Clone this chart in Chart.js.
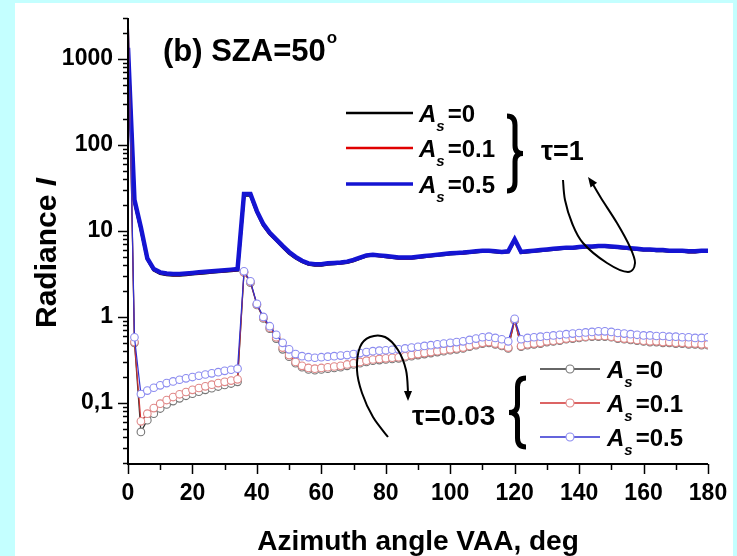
<!DOCTYPE html>
<html>
<head>
<meta charset="utf-8">
<script src="https://cdn.jsdelivr.net/npm/chart.js@4.4.0/dist/chart.umd.min.js"></script>
<style>
  html, body { margin: 0; padding: 0; background: #c4ffff; }
  #panel { position: absolute; left: 15px; top: 3px; width: 718px; height: 553px; background: #fff; }
  #chart { position: absolute; left: 0; top: 0; }
</style>
</head>
<body>
<div id="panel"></div>
<canvas id="chart" width="737" height="556"></canvas>
<script>
const FONT = '"Liberation Sans", Arial, sans-serif';

// azimuth angles, deg
const angles = [0, 2, 4, 6, 8, 10, 12, 14, 16, 18, 20, 22, 24, 26, 28, 30, 32, 34,
  36, 38, 40, 42, 44, 46, 48, 50, 52, 54, 56, 58, 60, 62, 64, 66, 68, 70, 72, 74,
  76, 78, 80, 82, 84, 86, 88, 90, 92, 94, 96, 98, 100, 102, 104, 106, 108, 110, 112, 114,
  116, 118, 120, 122, 124, 126, 128, 130, 132, 134, 136, 138, 140, 142, 144, 146, 148, 150, 152, 154,
  156, 158, 160, 162, 164, 166, 168, 170, 172, 174, 176, 178, 180];

// tau = 1 (lines)
const tau1As0 = [1300, 22, 10.5, 4.7, 3.5, 3.2, 3.1, 3.05, 3.05, 3.1, 3.15, 3.2, 3.25, 3.3, 3.35, 3.4, 3.45, 3.5,
  26, 26, 16.5, 11.6, 9.2, 7.8, 6.5, 5.5, 4.85, 4.4, 4.1, 4.0, 4.0, 4.1, 4.15, 4.2, 4.3, 4.5, 4.8, 5.1,
  5.2, 5.1, 5.0, 4.9, 4.8, 4.8, 4.8, 4.9, 5.0, 5.1, 5.2, 5.3, 5.4, 5.45, 5.5, 5.6, 5.7, 5.8, 5.8, 5.7,
  5.6, 5.7, 7.9, 5.6, 5.7, 5.8, 5.9, 6.0, 6.1, 6.2, 6.3, 6.3, 6.4, 6.5, 6.5, 6.6, 6.6, 6.5, 6.4, 6.3,
  6.2, 6.1, 6.0, 6.0, 5.9, 5.9, 5.8, 5.8, 5.8, 5.7, 5.7, 5.8, 5.8];
const tau1As01 = [1330, 22.5, 10.8, 4.75, 3.55, 3.25, 3.15, 3.1, 3.1, 3.15, 3.2, 3.25, 3.3, 3.35, 3.4, 3.45, 3.5, 3.55,
  26.5, 26.5, 16.8, 11.8, 9.3, 7.9, 6.6, 5.6, 4.9, 4.45, 4.15, 4.05, 4.05, 4.15, 4.2, 4.25, 4.35, 4.55, 4.85, 5.15,
  5.25, 5.15, 5.05, 4.95, 4.85, 4.85, 4.85, 4.95, 5.05, 5.15, 5.25, 5.35, 5.45, 5.5, 5.55, 5.65, 5.75, 5.85, 5.85, 5.75,
  5.65, 5.75, 7.95, 5.65, 5.75, 5.85, 5.95, 6.05, 6.15, 6.25, 6.35, 6.35, 6.45, 6.55, 6.55, 6.65, 6.65, 6.55, 6.45, 6.35,
  6.25, 6.15, 6.05, 6.05, 5.95, 5.95, 5.85, 5.85, 5.85, 5.75, 5.75, 5.85, 5.85];
const tau1As05 = [1350, 23, 11, 4.8, 3.6, 3.3, 3.2, 3.15, 3.15, 3.2, 3.25, 3.3, 3.35, 3.4, 3.45, 3.5, 3.55, 3.6,
  27, 27, 17, 12, 9.5, 8.0, 6.7, 5.7, 5.0, 4.5, 4.2, 4.1, 4.1, 4.2, 4.25, 4.3, 4.4, 4.6, 4.9, 5.2,
  5.3, 5.2, 5.1, 5.0, 4.9, 4.9, 4.9, 5.0, 5.1, 5.2, 5.3, 5.4, 5.5, 5.55, 5.6, 5.7, 5.8, 5.9, 5.9, 5.8,
  5.7, 5.8, 8.0, 5.7, 5.8, 5.9, 6.0, 6.1, 6.2, 6.3, 6.4, 6.4, 6.5, 6.6, 6.6, 6.7, 6.7, 6.6, 6.5, 6.4,
  6.3, 6.2, 6.1, 6.1, 6.0, 6.0, 5.9, 5.9, 5.9, 5.8, 5.8, 5.9, 5.9];

// tau = 0.03 (lines + open circles)
const tau003As0 = [4000, 0.50, 0.046, 0.063, 0.075, 0.086, 0.096, 0.105, 0.113, 0.121, 0.128, 0.135, 0.142, 0.148, 0.155, 0.162, 0.168, 0.176,
  3.3, 2.5, 1.38, 0.96, 0.73, 0.56, 0.42, 0.345, 0.29, 0.26, 0.245, 0.24, 0.245, 0.25, 0.255, 0.26, 0.27, 0.28, 0.29, 0.30,
  0.31, 0.315, 0.32, 0.325, 0.33, 0.34, 0.35, 0.36, 0.37, 0.38, 0.39, 0.40, 0.41, 0.42, 0.43, 0.45, 0.47, 0.49, 0.50, 0.48,
  0.46, 0.43, 0.91, 0.45, 0.47, 0.48, 0.49, 0.51, 0.52, 0.53, 0.55, 0.56, 0.57, 0.58, 0.59, 0.59, 0.59, 0.58, 0.56, 0.55,
  0.54, 0.53, 0.52, 0.51, 0.51, 0.50, 0.50, 0.49, 0.49, 0.48, 0.48, 0.47, 0.47];
const tau003As01 = [4000, 0.51, 0.061, 0.075, 0.087, 0.098, 0.108, 0.117, 0.126, 0.134, 0.142, 0.149, 0.156, 0.163, 0.170, 0.176, 0.182, 0.188,
  3.3, 2.55, 1.4, 0.98, 0.75, 0.58, 0.44, 0.36, 0.30, 0.27, 0.255, 0.25, 0.255, 0.26, 0.265, 0.27, 0.28, 0.29, 0.30, 0.31,
  0.32, 0.325, 0.33, 0.335, 0.34, 0.35, 0.36, 0.37, 0.38, 0.39, 0.40, 0.41, 0.42, 0.43, 0.44, 0.46, 0.48, 0.50, 0.51, 0.49,
  0.47, 0.44, 0.92, 0.46, 0.48, 0.49, 0.50, 0.52, 0.53, 0.54, 0.56, 0.57, 0.58, 0.59, 0.60, 0.60, 0.60, 0.59, 0.57, 0.56,
  0.55, 0.54, 0.53, 0.52, 0.52, 0.51, 0.51, 0.50, 0.50, 0.49, 0.49, 0.48, 0.48];
const tau003As05 = [4000, 0.58, 0.127, 0.139, 0.150, 0.160, 0.170, 0.178, 0.186, 0.193, 0.200, 0.207, 0.214, 0.221, 0.228, 0.236, 0.243, 0.250,
  3.4, 2.6, 1.42, 1.0, 0.78, 0.62, 0.50, 0.42, 0.37, 0.35, 0.34, 0.335, 0.34, 0.345, 0.35, 0.355, 0.36, 0.37, 0.38, 0.39,
  0.40, 0.405, 0.41, 0.415, 0.42, 0.43, 0.44, 0.45, 0.46, 0.47, 0.48, 0.49, 0.50, 0.51, 0.52, 0.54, 0.56, 0.58, 0.59, 0.57,
  0.55, 0.52, 0.95, 0.55, 0.57, 0.58, 0.59, 0.60, 0.61, 0.62, 0.63, 0.64, 0.65, 0.66, 0.67, 0.68, 0.68, 0.67, 0.65, 0.64,
  0.63, 0.62, 0.61, 0.61, 0.60, 0.60, 0.59, 0.59, 0.58, 0.58, 0.57, 0.57, 0.58];

const yTickValues = [0.1, 1, 10, 100, 1000];
const yTickLabels = ['0,1', '1', '10', '100', '1000'];
const legendValues = ['0', '0.1', '0.5'];

const toXY = (vals) => angles.map((a, i) => ({ x: a, y: vals[i] }));

function lineSet(label, vals, color, width, order) {
  return { label, data: toXY(vals), borderColor: color, borderWidth: width,
    pointRadius: 0, tension: 0, order };
}
function markerSet(label, vals, color, edge, order) {
  return { label, data: toXY(vals), borderColor: color, borderWidth: 1.2,
    pointRadius: 3.8, pointBackgroundColor: '#fff', pointBorderColor: edge,
    pointBorderWidth: 1.1, tension: 0, order };
}

// smooth curve through points (catmull-rom)
function smoothPath(ctx, pts) {
  ctx.beginPath();
  ctx.moveTo(pts[0][0], pts[0][1]);
  for (let i = 0; i < pts.length - 1; i++) {
    const p0 = pts[i - 1] || pts[i], p1 = pts[i], p2 = pts[i + 1], p3 = pts[i + 2] || p2;
    ctx.bezierCurveTo(p1[0] + (p2[0] - p0[0]) / 6, p1[1] + (p2[1] - p0[1]) / 6,
      p2[0] - (p3[0] - p1[0]) / 6, p2[1] - (p3[1] - p1[1]) / 6, p2[0], p2[1]);
  }
  ctx.stroke();
}
function arrowHead(ctx, from, tip) {
  const ang = Math.atan2(tip[1] - from[1], tip[0] - from[0]);
  ctx.save();
  ctx.translate(tip[0], tip[1]);
  ctx.rotate(ang);
  ctx.beginPath();
  ctx.moveTo(0, 0);
  ctx.lineTo(-10, -4);
  ctx.lineTo(-10, 4);
  ctx.closePath();
  ctx.fill();
  ctx.restore();
}
function brace(ctx, x, top, bot, w, dir) {
  const mid = (top + bot) / 2, c = x + dir * w / 2, tip = x + dir * w;
  ctx.beginPath();
  ctx.moveTo(x, top);
  ctx.quadraticCurveTo(c, top, c, top + 9);
  ctx.lineTo(c, mid - 8);
  ctx.quadraticCurveTo(c, mid, tip, mid);
  ctx.quadraticCurveTo(c, mid, c, mid + 8);
  ctx.lineTo(c, bot - 9);
  ctx.quadraticCurveTo(c, bot, x, bot);
  ctx.stroke();
}
function asLabel(ctx, x, base, val) {
  ctx.font = 'italic bold 24px ' + FONT;
  ctx.fillText('A', x, base);
  const wa = ctx.measureText('A').width;
  ctx.font = 'italic bold 15px ' + FONT;
  ctx.fillText('s', x + wa, base + 9);
  const ws = ctx.measureText('s').width;
  ctx.font = 'bold 24px ' + FONT;
  ctx.fillText('=' + val, x + wa + ws + 3, base);
}

const decorPlugin = {
  id: 'decor',
  afterDraw(chart) {
    const { ctx, chartArea: ca, scales: { x, y } } = chart;
    ctx.save();
    ctx.strokeStyle = '#000';
    ctx.fillStyle = '#000';
    ctx.lineCap = 'butt';

    // axes
    ctx.lineWidth = 2;
    ctx.beginPath();
    ctx.moveTo(ca.left, ca.top);
    ctx.lineTo(ca.left, ca.bottom + 1);
    ctx.lineTo(ca.right, ca.bottom + 1);
    ctx.stroke();

    // y ticks (decades + minor)
    ctx.lineWidth = 1.5;
    for (let e = -2; e <= 3; e++) {
      for (let m = 1; m <= 9; m++) {
        const v = m * Math.pow(10, e);
        if (v < y.min || v > y.max) continue;
        const py = Math.round(y.getPixelForValue(v)) + 0.5;
        const len = m === 1 ? 10 : 5;
        ctx.beginPath();
        ctx.moveTo(ca.left, py);
        ctx.lineTo(ca.left - len, py);
        ctx.stroke();
      }
    }
    // x ticks
    for (let a = 0; a <= 180; a += 10) {
      const px = Math.round(x.getPixelForValue(a)) + 0.5;
      const len = a % 20 === 0 ? 10 : 6;
      ctx.beginPath();
      ctx.moveTo(px, ca.bottom + 1);
      ctx.lineTo(px, ca.bottom + 1 + len);
      ctx.stroke();
    }

    // axis titles
    ctx.textBaseline = 'alphabetic';
    ctx.textAlign = 'center';
    ctx.font = 'bold 28px ' + FONT;
    ctx.fillText('Azimuth angle VAA, deg', 418, 550);

    ctx.save();
    ctx.translate(56, 253);
    ctx.rotate(-Math.PI / 2);
    ctx.textAlign = 'left';
    ctx.font = 'bold 30px ' + FONT;
    const t1 = 'Radiance ';
    const w1 = ctx.measureText(t1).width;
    ctx.font = 'italic bold 30px ' + FONT;
    const w2 = ctx.measureText('I').width;
    const x0 = -(w1 + w2) / 2;
    ctx.font = 'bold 30px ' + FONT;
    ctx.fillText(t1, x0, 0);
    ctx.font = 'italic bold 30px ' + FONT;
    ctx.fillText('I', x0 + w1, 0);
    ctx.restore();

    // panel title
    ctx.textAlign = 'left';
    ctx.font = 'bold 31px ' + FONT;
    ctx.fillText('(b) SZA=50', 163, 61);
    const wt = ctx.measureText('(b) SZA=50').width;
    ctx.font = 'bold 17px ' + FONT;
    ctx.fillText('o', 163 + wt + 1, 43);

    // legend tau = 1
    const l1Colors = ['#000', '#e00000', '#1414d2'];
    const l1Rows = [113, 148, 184];
    l1Rows.forEach((ry, i) => {
      ctx.strokeStyle = l1Colors[i];
      ctx.lineWidth = i === 2 ? 3.5 : 2.5;
      ctx.beginPath();
      ctx.moveTo(346, ry);
      ctx.lineTo(413, ry);
      ctx.stroke();
      asLabel(ctx, 419, ry + 9, legendValues[i]);
    });
    ctx.strokeStyle = '#000';
    ctx.lineWidth = 5;
    brace(ctx, 507, 116, 191, 16, 1);
    ctx.font = 'bold 27px ' + FONT;
    ctx.fillText('\u03c4=1', 541, 160);

    // legend tau = 0.03
    const l2Lines = ['#333', '#d03030', '#3030d0'];
    const l2Edges = ['#777', '#e08888', '#8c8cf0'];
    const l2Rows = [369, 403, 437];
    l2Rows.forEach((ry, i) => {
      ctx.strokeStyle = l2Lines[i];
      ctx.lineWidth = 1.3;
      ctx.beginPath();
      ctx.moveTo(540, ry);
      ctx.lineTo(600, ry);
      ctx.stroke();
      ctx.beginPath();
      ctx.arc(570, ry, 4, 0, Math.PI * 2);
      ctx.fillStyle = '#fff';
      ctx.fill();
      ctx.strokeStyle = l2Edges[i];
      ctx.lineWidth = 1.1;
      ctx.stroke();
      ctx.fillStyle = '#000';
      asLabel(ctx, 607, ry + 9, legendValues[i]);
    });
    ctx.strokeStyle = '#000';
    ctx.lineWidth = 5;
    brace(ctx, 526, 378, 447, 17, -1);
    ctx.font = 'bold 28px ' + FONT;
    ctx.fillText('\u03c4=0.03', 412, 425);

    // hand-drawn loops with arrows
    ctx.lineWidth = 2;
    ctx.lineJoin = 'round';
    const loop1 = [[563, 180], [565, 200], [572, 223], [583, 243], [607, 263], [628, 272],
      [635, 263], [630, 247], [617, 223], [601, 198], [591, 181]];
    smoothPath(ctx, loop1);
    arrowHead(ctx, [593, 184], [588, 177]);
    const loop2 = [[388, 437], [373, 417], [362, 393], [357, 370], [360, 347], [370, 337],
      [385, 337], [398, 350], [406, 370], [408, 392]];
    smoothPath(ctx, loop2);
    arrowHead(ctx, [408, 390], [408, 401]);

    ctx.restore();
  }
};

new Chart(document.getElementById('chart'), {
  type: 'line',
  data: {
    datasets: [
      lineSet('tau=1, As=0', tau1As0, '#000', 3, 5),
      lineSet('tau=1, As=0.1', tau1As01, '#e00000', 3, 4),
      lineSet('tau=1, As=0.5', tau1As05, '#1414d2', 4.5, 3),
      markerSet('tau=0.03, As=0', tau003As0, '#333', '#777', 2),
      markerSet('tau=0.03, As=0.1', tau003As01, '#d03030', '#e08888', 1),
      markerSet('tau=0.03, As=0.5', tau003As05, '#3030d0', '#8c8cf0', 0)
    ]
  },
  options: {
    responsive: false,
    animation: false,
    devicePixelRatio: 1,
    layout: { padding: { top: 18, right: 29, left: 0, bottom: 0 } },
    plugins: { legend: { display: false }, tooltip: { enabled: false } },
    scales: {
      x: {
        type: 'linear', min: 0, max: 180,
        grid: { display: false, drawTicks: false },
        border: { display: false },
        ticks: { stepSize: 20, autoSkip: false, maxRotation: 0, padding: 17, color: '#000',
          font: { family: FONT, size: 23, weight: 'bold' } },
        afterFit: (s) => { s.height = 93; s.paddingLeft = 0; s.paddingRight = 0; }
      },
      y: {
        type: 'logarithmic', min: 0.02, max: 3000,
        grid: { display: false, drawTicks: false },
        border: { display: false },
        afterBuildTicks: (s) => { s.ticks = yTickValues.map(v => ({ value: v })); },
        ticks: { padding: 15, color: '#000', font: { family: FONT, size: 23, weight: 'bold' },
          callback: (v) => yTickLabels[yTickValues.indexOf(v)] },
        afterFit: (s) => { s.width = 128; s.paddingTop = 0; s.paddingBottom = 0; }
      }
    }
  },
  plugins: [decorPlugin]
});
</script>
</body>
</html>
